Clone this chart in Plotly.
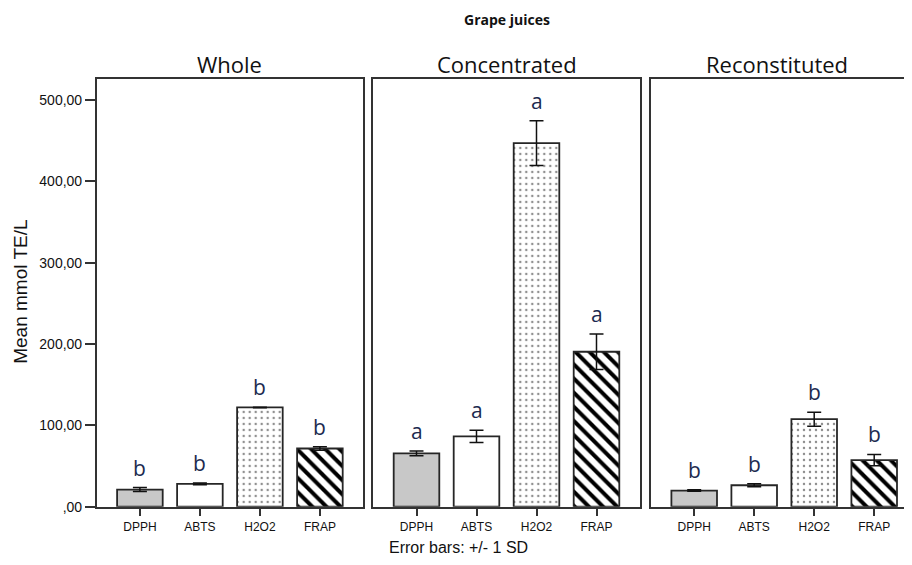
import plotly.graph_objects as go

# The page body adds an 8px margin on every side; the figure is made 16px
# smaller so the page fits the window exactly, and pixel positions are shifted.
OFF = 8
W, H = 912 - 2 * OFF, 565 - 2 * OFF

categories = ["DPPH", "ABTS", "H2O2", "FRAP"]
panels = ["Whole", "Concentrated", "Reconstituted"]

whole_mean = [21.0, 28.0, 122.0, 71.5]
whole_sd = [2.5, 1.2, 0.3, 2.2]
whole_letters = ["b", "b", "b", "b"]

conc_mean = [65.5, 86.5, 447.0, 190.5]
conc_sd = [3.0, 7.5, 27.5, 21.8]
conc_letters = ["a", "a", "a", "a"]

recon_mean = [19.8, 26.3, 107.5, 57.3]
recon_sd = [1.0, 1.8, 8.5, 6.9]
recon_letters = ["b", "b", "b", "b"]

y_tickvals = [0, 100, 200, 300, 400, 500]
y_ticktext = [",00", "100,00", "200,00", "300,00", "400,00", "500,00"]

means = [whole_mean, conc_mean, recon_mean]
sds = [whole_sd, conc_sd, recon_sd]
letters = [whole_letters, conc_letters, recon_letters]

# pixel layout (reference screen coordinates)
x_dom_px = [(96.7, 362.7), (373.3, 640.3), (651.0, 920.0)]
y_top_px, y_bot_px = 80.0, 514.0
px_per_cat = 60.0

fill_bg = ["#c8c8c8", "white", "white", "white"]
pat_shape = ["", "", ".", "\\"]
pat_fg = ["black", "black", "#8f8f8f", "black"]
pat_size = [8, 8, 6, 10]
pat_sol = [0.3, 0.3, 0.13, 0.4]


def px_x(v):
    return (v - OFF) / W


def px_y(v):
    return 1 - (v - OFF) / H


fig = go.Figure()
layout = dict(
    width=W, height=H,
    margin=dict(l=0, r=0, t=0, b=0),
    paper_bgcolor="white", plot_bgcolor="white",
    showlegend=False, barmode="overlay",
)

annotations = []
for i in range(3):
    xa = "x" if i == 0 else f"x{i+1}"
    ya = "y" if i == 0 else f"y{i+1}"
    xkey = "xaxis" if i == 0 else f"xaxis{i+1}"
    ykey = "yaxis" if i == 0 else f"yaxis{i+1}"
    x0, x1 = x_dom_px[i]
    x1c = min(x1, OFF + W)
    xr_left = -0.72
    xr_right = xr_left + (x1c - x0) / px_per_cat
    for j, c in enumerate(categories):
        pat = dict(shape=pat_shape[j], fgcolor=pat_fg[j], bgcolor=fill_bg[j],
                   size=pat_size[j], solidity=pat_sol[j], fillmode="replace")
        fig.add_trace(go.Bar(
            x=[c], y=[means[i][j]], xaxis=xa, yaxis=ya,
            width=0.76,
            marker=dict(color=fill_bg[j], line=dict(color="#262626", width=1.8),
                        pattern=pat),
            error_y=dict(type="data", array=[sds[i][j]], color="#111111",
                         thickness=1.5, width=7),
            hoverinfo="skip",
        ))
    layout[xkey] = dict(
        domain=[px_x(x0), min(1.0, px_x(x1c))], anchor=ya,
        range=[xr_left, xr_right],
        categoryorder="array", categoryarray=categories,
        showline=True, mirror=True, linecolor="#333333", linewidth=1.5,
        ticks="outside", ticklen=8, tickcolor="#333333", tickwidth=1.5,
        tickfont=dict(family="Arial", size=12, color="#111111"),
        showgrid=False, zeroline=False, fixedrange=True,
    )
    layout[ykey] = dict(
        domain=[px_y(y_bot_px), px_y(y_top_px)], anchor=xa,
        range=[0, 526],
        showline=True, mirror=(i < 2), linecolor="#333333", linewidth=1.5,
        showgrid=False, zeroline=False, fixedrange=True,
        tickvals=y_tickvals, ticktext=y_ticktext,
        ticks="outside" if i == 0 else "", ticklen=10, tickcolor="#333333", tickwidth=1.5,
        showticklabels=(i == 0),
        tickfont=dict(family="Arial", size=14, color="#111111"),
    )
    if i > 0:
        layout[ykey]["matches"] = "y"
    for c, m, s, lt in zip(categories, means[i], sds[i], letters[i]):
        annotations.append(dict(
            x=c, y=m + s, xref=xa, yref=ya, text=lt, showarrow=False,
            yanchor="bottom", yshift=4,
            font=dict(family="Open Sans", size=21, color="#1c2b4f"),
        ))
    title_cx = (x0 + x1) / 2 if i < 2 else 777
    annotations.append(dict(
        x=px_x(title_cx), y=px_y(65), xref="paper", yref="paper",
        text=panels[i], showarrow=False, xanchor="center", yanchor="middle",
        font=dict(family="Open Sans", size=22, color="#111111"),
    ))

annotations.append(dict(
    x=px_x(507), y=px_y(20), xref="paper", yref="paper", text="<b>Grape juices</b>",
    showarrow=False, xanchor="center", yanchor="middle",
    font=dict(family="Open Sans", size=14, color="#111111"),
))
annotations.append(dict(
    x=px_x(21), y=px_y(296), xref="paper", yref="paper", text="Mean mmol TE/L",
    showarrow=False, textangle=-90, xanchor="center", yanchor="middle",
    font=dict(family="Arial", size=19, color="#111111"),
))
annotations.append(dict(
    x=px_x(458), y=px_y(555), xref="paper", yref="paper", text="Error bars: +/- 1 SD",
    showarrow=False, xanchor="center", yanchor="middle",
    font=dict(family="Arial", size=16, color="#111111"),
))
layout["annotations"] = annotations
fig.update_layout(**layout)
fig.write_html("out.html")
